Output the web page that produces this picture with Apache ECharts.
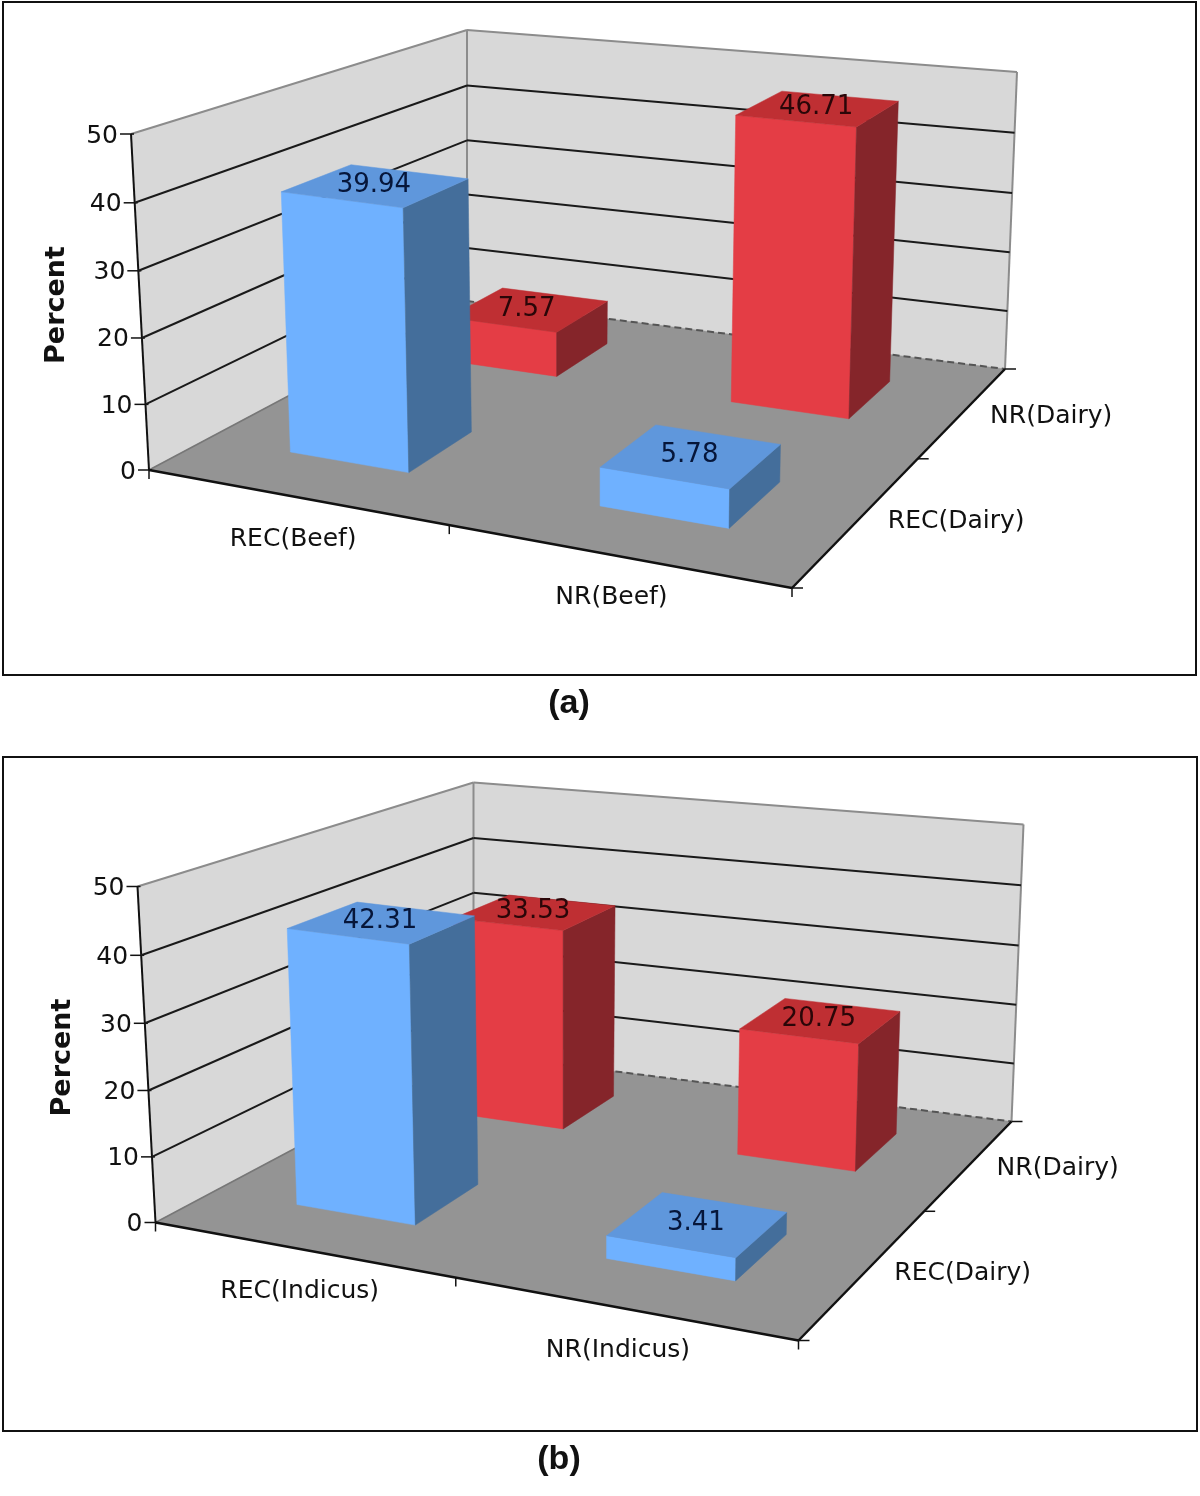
<!DOCTYPE html>
<html>
<head>
<meta charset="utf-8">
<style>
  html, body { margin: 0; padding: 0; background: #fff; }
  #main { width: 1200px; height: 1496px; }
</style>
</head>
<body>
<div id="main"></div>
<script src="https://cdn.jsdelivr.net/npm/echarts@6/dist/echarts.min.js"></script>
<script>
// values
const yTicks = [0, 10, 20, 30, 40, 50]
const dairyLabels = ['REC(Dairy)', 'NR(Dairy)']
const beefLabels = ['REC(Beef)', 'NR(Beef)']
const indicusLabels = ['REC(Indicus)', 'NR(Indicus)']
const beefFrontRow = [39.94, 5.78]
const beefBackRow = [7.57, 46.71]
const indicusFrontRow = [42.31, 3.41]
const indicusBackRow = [33.53, 20.75]

// box corners of the upper panel, floor then top
const floorFL = [149, 470]
const floorFR = [792, 588]
const floorBR = [1005, 369]
const floorBL = [467, 301]
const topFL = [131, 134]
const topFR = [800, 220]
const topBR = [1017, 72]
const topBL = [467, 30]

// where the bars stand on the floor, 0..1 along each floor edge
const colSlots = [[0.130, 0.320], [0.627, 0.834]]
const rowSlots = [[0.19, 0.41], [0.71, 0.887]]
const midTickX = 0.467
const midTickDepth = 0.59
const frontLabelAt = [0.232, 0.727]
const depthLabelAt = [0.295, 0.775]
const heightBend = 1.03

const TEXT_FONT = '25px "DejaVu Sans"'
const VALUE_FONT = '26px "DejaVu Sans"'
const blue = { front: '#6FB1FF', side: '#446E9B', top: '#5F97DC', text: '#06163A' }
const red = { front: '#E43D45', side: '#85252A', top: '#BF2F33', text: '#2A0608' }

function mix(a, b, t) {
  return [a[0] + (b[0] - a[0]) * t, a[1] + (b[1] - a[1]) * t]
}

// u: along the front axis, v: into the depth, w: height 0..1
function project(off, u, v, w) {
  const floor = mix(mix(floorFL, floorFR, u), mix(floorBL, floorBR, u), v)
  const top = mix(mix(topFL, topFR, u), mix(topBL, topBR, u), v)
  const p = mix(floor, top, w)
  return [p[0] + off[0], p[1] + off[1]]
}

// value axis position as 0..1, slightly bent for the perspective of the walls
function heightOf(api, val) {
  const y0 = api.coord([0, 0])[1]
  const y1 = api.coord([0, 50])[1]
  const w = (y0 - api.coord([0, val])[1]) / (y0 - y1)
  return w / (heightBend - (heightBend - 1) * w)
}

function poly(points, fill) {
  return { type: 'polygon', silent: true, shape: { points }, style: { fill, stroke: fill, lineWidth: 0.5 } }
}

function seg(a, b, stroke, lineWidth, lineDash) {
  return {
    type: 'line',
    silent: true,
    shape: { x1: a[0], y1: a[1], x2: b[0], y2: b[1] },
    style: { stroke, lineWidth, lineDash: lineDash || null, fill: null }
  }
}

function label(text, x, y, align, fill, font) {
  return {
    type: 'text',
    silent: true,
    style: { text, x, y, align, verticalAlign: 'middle', font: font || TEXT_FONT, fill: fill || '#111' }
  }
}

function renderBackdrop(off, frontLabels) {
  return function() {
    const P = (u, v, w) => project(off, u, v, w)
    const axis = '#111'
    const edge = '#8C8C8C'
    const kids = [
      poly([P(0, 0, 0), P(0, 1, 0), P(0, 1, 1), P(0, 0, 1)], '#D8D8D8'),
      poly([P(0, 1, 0), P(1, 1, 0), P(1, 1, 1), P(0, 1, 1)], '#D8D8D8'),
      poly([P(0, 0, 0), P(1, 0, 0), P(1, 1, 0), P(0, 1, 0)], '#949494'),
      seg(P(0, 0, 1), P(0, 1, 1), edge, 2),
      seg(P(0, 1, 1), P(1, 1, 1), edge, 2),
      seg(P(0, 1, 0), P(0, 1, 1), edge, 2),
      seg(P(1, 1, 0), P(1, 1, 1), edge, 2),
      seg(P(0, 0, 0), P(0, 1, 0), '#777', 1.5),
      seg(P(0, 1, 0), P(1, 1, 0), '#555', 2, [7, 4]),
      seg(P(0, 0, 0), P(0, 0, 1), axis, 2),
      seg(P(0, 0, 0), P(1, 0, 0), axis, 2.5),
      seg(P(1, 0, 0), P(1, 1, 0), axis, 2.5)
    ]
    // ticks under the two floor axes
    ;[0, midTickX, 1].forEach(u => {
      const p = P(u, 0, 0)
      kids.push(seg(p, [p[0], p[1] + 9], axis, 1.5))
    })
    ;[0, midTickDepth, 1].forEach(v => {
      const p = P(1, v, 0)
      kids.push(seg(p, [p[0] + 11, p[1]], axis, 1.5))
    })
    // category labels
    frontLabels.forEach((name, i) => {
      const p = P(frontLabelAt[i], 0, 0)
      kids.push(label(name, p[0] - 5, p[1] + 42, 'center'))
    })
    dairyLabels.forEach((name, i) => {
      const p = P(1, depthLabelAt[i], 0)
      kids.push(label(name, p[0] + 33, p[1] - 2, 'left'))
    })
    return { type: 'group', children: kids }
  }
}

function renderTick(off) {
  return function(params, api) {
    const val = api.value(1)
    const w = heightOf(api, val)
    const a = project(off, 0, 0, w)
    const b = project(off, 0, 1, w)
    const c = project(off, 1, 1, w)
    const kids = [
      seg([a[0] - 11, a[1]], [a[0] + 3, a[1]], '#111', 1.5),
      label(String(val), a[0] - 13, a[1] + 2, 'right')
    ]
    if (val > 0 && val < 50) {
      kids.push(seg(a, b, '#1A1A1A', 2), seg(b, c, '#1A1A1A', 2))
    }
    return { type: 'group', children: kids }
  }
}

function renderBars(off, row, colors) {
  return function(params, api) {
    const col = api.value(0)
    const val = api.value(1)
    const w = heightOf(api, val)
    const [u0, u1] = colSlots[col]
    const [v0, v1] = rowSlots[row]
    const P = (u, v, h) => project(off, u, v, h)
    const a = P(u0, v0, w)
    const b = P(u1, v0, w)
    const c = P(u1, v1, w)
    const d = P(u0, v1, w)
    return {
      type: 'group',
      children: [
        poly([P(u0, v0, 0), P(u1, v0, 0), b, a], colors.front),
        poly([P(u1, v0, 0), P(u1, v1, 0), c, b], colors.side),
        poly([a, b, c, d], colors.top),
        label(
          val.toFixed(2),
          (a[0] + b[0] + c[0] + d[0]) / 4 - 2,
          (a[1] + b[1] + c[1] + d[1]) / 4 - 1,
          'center',
          colors.text,
          VALUE_FONT
        )
      ]
    }
  }
}

function buildPanel(idx, off, frontLabels, frontRow, backRow) {
  const common = { type: 'custom', coordinateSystem: 'cartesian2d', xAxisIndex: idx, yAxisIndex: idx, clip: false, animation: false, silent: true }
  const rowData = arr => arr.map((v, i) => [i, v])
  return {
    grid: { left: 131 + off[0], top: 137 + off[1], width: 660, height: 336 },
    xAxis: { gridIndex: idx, type: 'category', data: frontLabels, show: false },
    yAxis: {
      gridIndex: idx,
      type: 'value',
      min: 0,
      max: 50,
      interval: 10,
      name: 'Percent',
      nameLocation: 'middle',
      nameRotate: 90,
      nameGap: 61,
      nameTextStyle: { fontFamily: 'DejaVu Sans', fontWeight: 'bold', fontSize: 27, color: '#111' },
      axisLine: { show: false },
      axisTick: { show: false },
      axisLabel: { show: false },
      splitLine: { show: false }
    },
    series: [
      { ...common, name: 'box' + idx, z: 2, encode: { x: 0, y: 1 }, data: [[0, 0]], renderItem: renderBackdrop(off, frontLabels) },
      { ...common, name: 'ticks' + idx, z: 3, encode: { x: 0, y: 1 }, data: yTicks.map(t => [0, t]), renderItem: renderTick(off) },
      { ...common, name: dairyLabels[1] + idx, z: 4, encode: { x: 0, y: 1 }, data: rowData(backRow), renderItem: renderBars(off, 1, red) },
      { ...common, name: dairyLabels[0] + idx, z: 5, encode: { x: 0, y: 1 }, data: rowData(frontRow), renderItem: renderBars(off, 0, blue) }
    ]
  }
}

const panelA = buildPanel(0, [0, 0], beefLabels, beefFrontRow, beefBackRow)
const panelB = buildPanel(1, [6.5, 752.5], indicusLabels, indicusFrontRow, indicusBackRow)

const chart = echarts.init(document.getElementById('main'))
chart.setOption({
  backgroundColor: '#fff',
  animation: false,
  title: [
    { text: '(a)', left: 564, top: 682, textAlign: 'center', textStyle: { fontFamily: 'Liberation Sans', fontWeight: 'bold', fontSize: 34, color: '#111' } },
    { text: '(b)', left: 554, top: 1438, textAlign: 'center', textStyle: { fontFamily: 'Liberation Sans', fontWeight: 'bold', fontSize: 34, color: '#111' } }
  ],
  graphic: [
    { type: 'rect', shape: { x: 3, y: 2, width: 1193, height: 673 }, style: { fill: 'none', stroke: '#111', lineWidth: 2 }, silent: true },
    { type: 'rect', shape: { x: 3, y: 757, width: 1194, height: 674 }, style: { fill: 'none', stroke: '#111', lineWidth: 2 }, silent: true }
  ],
  grid: [panelA.grid, panelB.grid],
  xAxis: [panelA.xAxis, panelB.xAxis],
  yAxis: [panelA.yAxis, panelB.yAxis],
  series: panelA.series.concat(panelB.series)
})
</script>
</body>
</html>
